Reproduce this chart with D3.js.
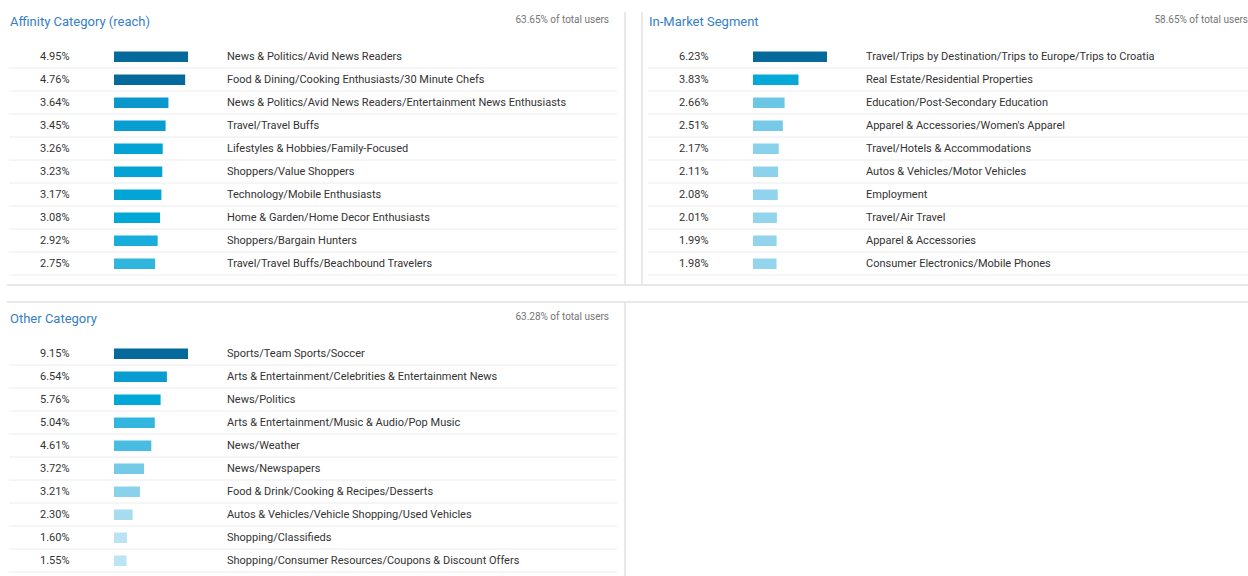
<!DOCTYPE html>
<html>
<head>
<meta charset="utf-8">
<script src="https://cdn.jsdelivr.net/npm/d3@7"></script>
<style>
  body { margin: 0; background: #fff; font-family: Roboto, "Noto Sans", sans-serif; }
  svg { display: block; }
  .title { fill: #3580c6; font-size: 13px; }
  .total { fill: #757575; font-size: 10px; }
  .val, .lab { fill: #333; font-size: 11px; }
</style>
</head>
<body>
<div id="svg-container"></div>
<script>
// ---- data ----
const affinityLabels = [
  "News & Politics/Avid News Readers",
  "Food & Dining/Cooking Enthusiasts/30 Minute Chefs",
  "News & Politics/Avid News Readers/Entertainment News Enthusiasts",
  "Travel/Travel Buffs",
  "Lifestyles & Hobbies/Family-Focused",
  "Shoppers/Value Shoppers",
  "Technology/Mobile Enthusiasts",
  "Home & Garden/Home Decor Enthusiasts",
  "Shoppers/Bargain Hunters",
  "Travel/Travel Buffs/Beachbound Travelers"
];
const affinityValues = [4.95, 4.76, 3.64, 3.45, 3.26, 3.23, 3.17, 3.08, 2.92, 2.75];

const inMarketLabels = [
  "Travel/Trips by Destination/Trips to Europe/Trips to Croatia",
  "Real Estate/Residential Properties",
  "Education/Post-Secondary Education",
  "Apparel & Accessories/Women's Apparel",
  "Travel/Hotels & Accommodations",
  "Autos & Vehicles/Motor Vehicles",
  "Employment",
  "Travel/Air Travel",
  "Apparel & Accessories",
  "Consumer Electronics/Mobile Phones"
];
const inMarketValues = [6.23, 3.83, 2.66, 2.51, 2.17, 2.11, 2.08, 2.01, 1.99, 1.98];

const otherLabels = [
  "Sports/Team Sports/Soccer",
  "Arts & Entertainment/Celebrities & Entertainment News",
  "News/Politics",
  "Arts & Entertainment/Music & Audio/Pop Music",
  "News/Weather",
  "News/Newspapers",
  "Food & Drink/Cooking & Recipes/Desserts",
  "Autos & Vehicles/Vehicle Shopping/Used Vehicles",
  "Shopping/Classifieds",
  "Shopping/Consumer Resources/Coupons & Discount Offers"
];
const otherValues = [9.15, 6.54, 5.76, 5.04, 4.61, 3.72, 3.21, 2.30, 1.60, 1.55];

const panelTitles = ["Affinity Category (reach)", "In-Market Segment", "Other Category"];
const panelTotals = ["63.65% of total users", "58.65% of total users", "63.28% of total users"];

// ---- init ----
const width = 1248, height = 576;
const svg = d3.select("#svg-container").append("svg")
  .attr("width", width).attr("height", height);

// bar colour by share of the panel's top value
const colorScale = d3.scaleLinear()
  .domain([0.15, 0.25, 0.35, 0.42, 0.5, 0.56, 0.62, 0.72, 0.9, 1])
  .range(["#c0e6f5", "#a6dcf0", "#8ad1eb", "#6fc8e6", "#4bbde1", "#2eb4dd", "#00a8d8", "#0a9bd0", "#056a9b", "#056a9b"])
  .clamp(true);

// frame lines
const frame = svg.append("g").attr("stroke", "#e2e2e2").attr("stroke-width", 1.5);
frame.append("line").attr("x1", 7).attr("x2", width).attr("y1", 285).attr("y2", 285);
frame.append("line").attr("x1", 7).attr("x2", width).attr("y1", 302).attr("y2", 302);
frame.append("line").attr("x1", 625).attr("x2", 625).attr("y1", 12).attr("y2", 285);
frame.append("line").attr("x1", 642).attr("x2", 642).attr("y1", 12).attr("y2", 285);
frame.append("line").attr("x1", 625).attr("x2", 625).attr("y1", 302).attr("y2", height);

function drawPanel(ox, oy, right, title, total, labels, values) {
  const g = svg.append("g").attr("transform", `translate(${ox},${oy})`);

  const yScale = d3.scaleBand().domain(d3.range(values.length)).range([45, 275]);
  const xScale = d3.scaleLinear().domain([0, d3.max(values)]).range([0, 74]);
  const max = d3.max(values);

  g.append("text").attr("class", "title").attr("x", 10).attr("y", 26).text(title);
  g.append("text").attr("class", "total").attr("x", right - ox).attr("y", 23)
    .attr("text-anchor", "end").text(total);

  g.selectAll(".sep").data(values).enter().append("line")
    .attr("x1", 9).attr("x2", right === width ? width - ox : 617)
    .attr("y1", (d, i) => yScale(i) + yScale.bandwidth())
    .attr("y2", (d, i) => yScale(i) + yScale.bandwidth())
    .attr("stroke", "#ececec").attr("stroke-width", 1);

  g.selectAll(".val").data(values).enter().append("text")
    .attr("class", "val")
    .attr("x", 40)
    .attr("y", (d, i) => yScale(i) + yScale.bandwidth() / 2 + 3)
    .text(d => d3.format(".2f")(d) + "%");

  g.selectAll(".bar").data(values).enter().append("rect")
    .attr("x", 114)
    .attr("y", (d, i) => yScale(i) + yScale.bandwidth() / 2 - 5)
    .attr("width", d => xScale(d))
    .attr("height", 10.5)
    .attr("fill", d => colorScale(d / max));

  g.selectAll(".lab").data(labels).enter().append("text")
    .attr("class", "lab")
    .attr("x", 227)
    .attr("y", (d, i) => yScale(i) + yScale.bandwidth() / 2 + 3)
    .text(d => d);
}

drawPanel(0, 0, 609, panelTitles[0], panelTotals[0], affinityLabels, affinityValues);
drawPanel(639, 0, width, panelTitles[1], panelTotals[1], inMarketLabels, inMarketValues);
drawPanel(0, 297, 609, panelTitles[2], panelTotals[2], otherLabels, otherValues);
</script>
</body>
</html>
